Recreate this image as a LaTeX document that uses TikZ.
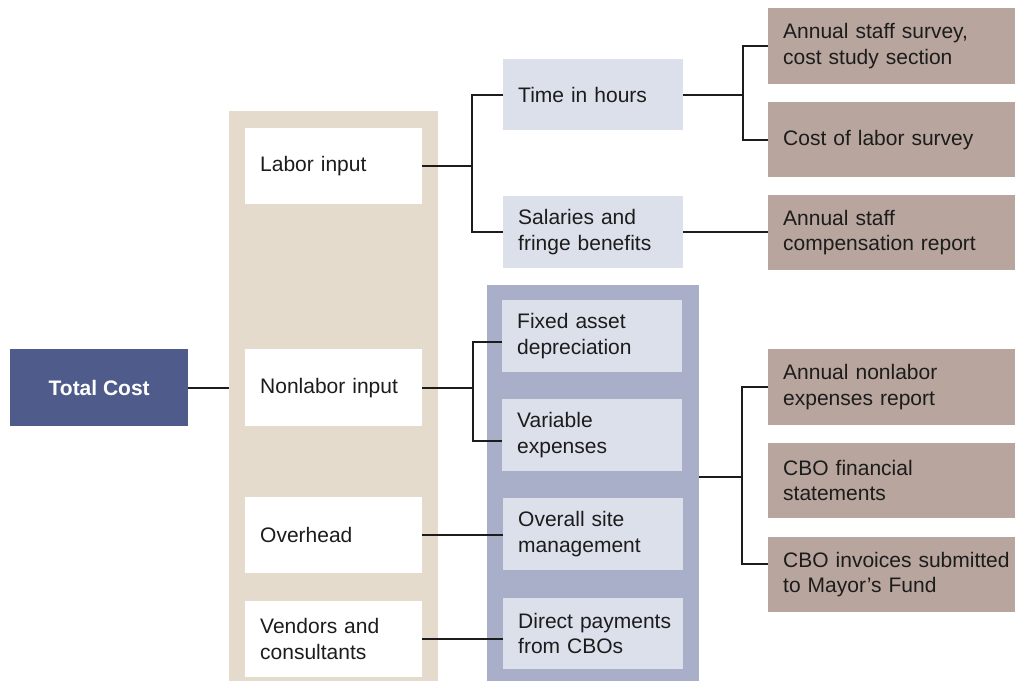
\documentclass[tikz,border=0pt]{standalone}
\usepackage{fontspec}
\setmainfont{Liberation Sans}
\usetikzlibrary{calc,backgrounds}

\definecolor{ink}{HTML}{1C1C1C}
\definecolor{totalblue}{HTML}{4E5B8B}
\definecolor{beige}{HTML}{E4DBCC}
\definecolor{paleblue}{HTML}{DCE0EB}
\definecolor{slateblue}{HTML}{A9AEC9}
\definecolor{taupe}{HTML}{B8A59D}

\newcommand{\cellfont}{\fontsize{21}{25.5}\selectfont}

\tikzset{
  panel/.style={rectangle, inner sep=0pt, anchor=north west},
  cell/.style={rectangle, inner xsep=15pt, inner ysep=0pt, align=left,
    anchor=north west, font=\cellfont, text=ink},
  inputbox/.style={cell, fill=white, text width=147pt},
  costbox/.style={cell, fill=paleblue, text width=150pt},
  sourcebox/.style={cell, fill=taupe, text width=217pt},
  totalbox/.style={rectangle, inner sep=0pt, anchor=north west, fill=totalblue,
    text=white, font=\cellfont\bfseries, align=center},
  link/.style={draw=ink, line width=2pt}
}

\begin{document}
\begin{tikzpicture}[x=1pt,y=-1pt]
\useasboundingbox (0,0) rectangle (1015,681);

% column panels
\node[panel, fill=beige, minimum width=209pt, minimum height=570pt] (inputs) at (229,111) {};
\node[panel, fill=slateblue, minimum width=212pt, minimum height=396pt] (nonlaborpanel) at (487,285) {};

% root
\node[totalbox, minimum width=178pt, minimum height=77pt] (total) at (10,349) {Total Cost};

% input categories
\node[inputbox, minimum height=76pt] (labor) at (245,128) {Labor input};
\node[inputbox, minimum height=77pt] (nonlabor) at (245,349) {Nonlabor input};
\node[inputbox, minimum height=76pt] (overhead) at (245,497) {Overhead};
\node[inputbox, minimum height=76pt] (vendors) at (245,601) {Vendors and\\consultants};

% cost components
\node[costbox, minimum height=71pt] (hours) at (503,59) {Time in hours};
\node[costbox, minimum height=72pt] (salaries) at (503,196) {Salaries and\\fringe benefits};
\node[costbox, minimum height=72pt] (fixed) at (502,300) {Fixed asset\\depreciation};
\node[costbox, minimum height=72pt] (variable) at (502,399) {Variable\\expenses};
\node[costbox, minimum height=72pt] (sitemgmt) at (503,498) {Overall site\\management};
\node[costbox, minimum height=71pt] (direct) at (503,598) {\mbox{Direct payments}\\from CBOs};

% data sources
\node[sourcebox, minimum height=76pt] (survey) at (768,8) {Annual staff survey,\\cost study section};
\node[sourcebox, minimum height=75pt] (laborsurvey) at (768,102) {Cost of labor survey};
\node[sourcebox, minimum height=75pt] (compreport) at (768,195) {Annual staff\\compensation report};
\node[sourcebox, minimum height=76pt] (nlreport) at (768,349) {Annual nonlabor\\expenses report};
\node[sourcebox, minimum height=75pt] (statements) at (768,443) {CBO financial\\statements};
\node[sourcebox, minimum height=75pt] (invoices) at (768,537) {\mbox{CBO invoices submitted}\\to Mayor’s Fund};

% root link runs beneath the beige panel
\begin{pgfonlayer}{background}
  \draw[link] (total.east) -- (nonlabor.west);
\end{pgfonlayer}

% junction points
\coordinate (jlabor) at ($(labor.east)+(50,0)$);
\coordinate (jhours) at ($(hours.east)+(60,0)$);
\coordinate (jnonlabor) at ($(nonlabor.east)+(51,0)$);
\coordinate (pout) at ([yshift=6pt]nonlaborpanel.east);
\coordinate (jpanel) at ($(pout)+(43,0)$);

% connectors
\draw[link] (labor.east) -- (jlabor);
\draw[link] (hours.west) -| (jlabor) |- (salaries.west);
\draw[link] (hours.east) -- (jhours);
\draw[link] (survey.west) -| (jhours) |- (laborsurvey.west);
\draw[link] (salaries.east) -- (salaries.east -| compreport.west);
\draw[link] (nonlabor.east) -- (jnonlabor);
\draw[link] ([yshift=-6pt]fixed.west) -| (jnonlabor) |- ([yshift=-6pt]variable.west);
\draw[link] (pout) -- (jpanel);
\draw[link] (nlreport.west) -| (jpanel) |- ([yshift=10.5pt]invoices.west);
\draw[link] (overhead.east) -- (overhead.east -| sitemgmt.west);
\draw[link] (vendors.east) -- (vendors.east -| direct.west);
\end{tikzpicture}
\end{document}
